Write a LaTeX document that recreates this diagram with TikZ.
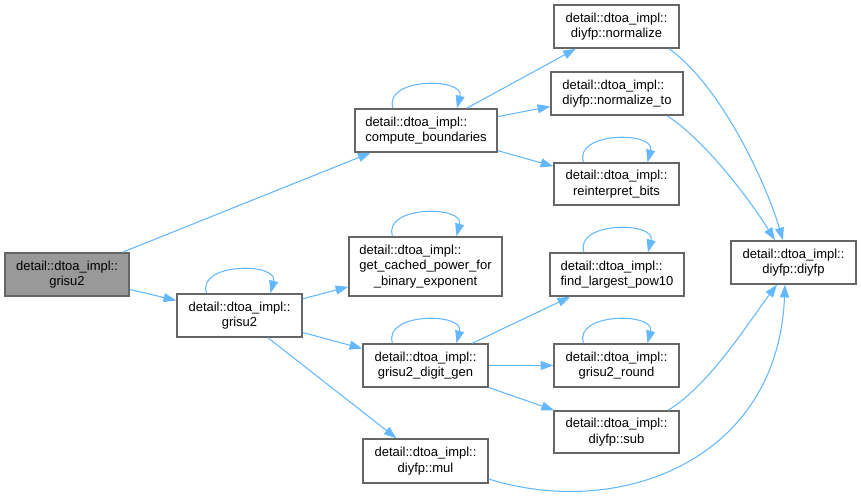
\documentclass[tikz,border=0pt]{standalone}
\usepackage{fontspec}
\setmainfont{Liberation Sans}
\usetikzlibrary{arrows.meta,calc}
\definecolor{edgeblue}{HTML}{63B8FF}
\definecolor{bordergray}{HTML}{666666}
\definecolor{fillgray}{HTML}{999999}
\newlength\lfwidth
\newcommand\lfirst[2]{\settowidth{\lfwidth}{#2}\makebox[\lfwidth][l]{#1}}
\begin{document}
\begin{tikzpicture}[x=0.75pt,y=-0.75pt,
  box/.style={draw=bordergray, line width=1.1pt, fill=white, rectangle, inner sep=0pt,
    align=center, minimum width=93.75pt, minimum height=32.25pt,
    font=\fontsize{9.75}{11.75}\selectfont},
  edge/.style={draw=edgeblue, line width=0.8pt, -{Triangle[length=9.5pt,width=6.75pt]}},
]
\useasboundingbox (0,0) rectangle (861,496);

\node[box, fill=fillgray, minimum width=93pt] (g0) at (67,274.5) {detail::dtoa\_impl::\\grisu2};
\node[box] (g1) at (239.5,315.5) {detail::dtoa\_impl::\\grisu2};
\node[box, minimum width=106.5pt] (cb) at (426,130.5)
  {\lfirst{detail::dtoa\_impl::}{compute\_boundaries}\\compute\_boundaries};
\node[box] (norm) at (616.5,26.5) {detail::dtoa\_impl::\\diyfp::normalize};
\node[box, minimum width=99pt] (normto) at (617,93.5)
  {\lfirst{detail::dtoa\_impl::}{diyfp::normalize\_to}\\diyfp::normalize\_to};
\node[box, minimum height=31.5pt] (reint) at (616.5,184) {detail::dtoa\_impl::\\reinterpret\_bits};
\node[box, minimum width=114.75pt, minimum height=44.25pt] (cached) at (425.5,266.5)
  {\lfirst{detail::dtoa\_impl::}{get\_cached\_power\_for}\\get\_cached\_power\_for\\\_binary\_exponent};
\node[box, minimum width=100.5pt] (largest) at (617,274.5)
  {\lfirst{detail::dtoa\_impl::}{find\_largest\_pow10}\\find\_largest\_pow10};
\node[box] (dg) at (425.5,365.5) {detail::dtoa\_impl::\\grisu2\_digit\_gen};
\node[box] (round) at (616.5,365.5) {detail::dtoa\_impl::\\grisu2\_round};
\node[box, minimum height=31.5pt] (sub) at (616.5,432) {detail::dtoa\_impl::\\diyfp::sub};
\node[box, minimum height=33pt] (mul) at (425.5,461) {detail::dtoa\_impl::\\diyfp::mul};
\node[box] (diyfp) at (793.5,262.5) {detail::dtoa\_impl::\\diyfp::diyfp};

% straight edges
\draw[edge] (g0) -- (cb);
\draw[edge] (g0) -- (g1);
\draw[edge] (g1) -- (cached);
\draw[edge] (g1) -- (dg);
\draw[edge] (g1) -- (mul);
\draw[edge] (cb) -- (norm);
\draw[edge] (cb) -- (normto);
\draw[edge] (cb) -- (reint);
\draw[edge] (dg) -- (largest);
\draw[edge] (dg) -- (round);
\draw[edge] (dg) -- (sub);

% curved edges to diyfp
\draw[edge] ($(norm.south)+(52.5,0)$) .. controls (720,85) and (765,180) .. ($(diyfp.north)+(-10.5,0)$);
\draw[edge] ($(normto.south)+(50,0)$) .. controls (705,140) and (750,200) .. ($(diyfp.north)+(-18.5,0)$);
\draw[edge] ($(sub.north)+(51.5,0)$) .. controls (710,385) and (750,320) .. ($(diyfp.south)+(-16.5,0)$);
\draw[edge] ($(mul.east)+(0,18)$) .. controls (620,520) and (778,460) .. ($(diyfp.south)+(-8.5,0)$);

% self loops
\foreach \n in {g1,cb,reint,cached,largest,dg,round}{
  \draw[edge] ($(\n.north)+(-33,0)$) .. controls +(-10,-31) and +(8,-31) .. ($(\n.north)+(31,0)$);
}
\end{tikzpicture}
\end{document}
